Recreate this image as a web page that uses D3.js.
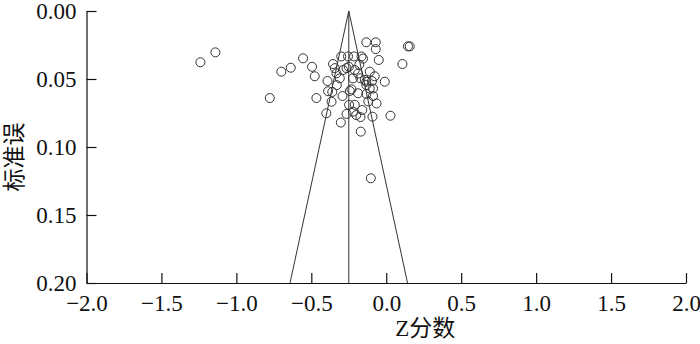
<!DOCTYPE html>
<html>
<head>
<meta charset="utf-8">
<script src="https://cdn.jsdelivr.net/npm/d3@7"></script>
<style>
  body { margin: 0; background: #fff; }
</style>
</head>
<body>
<svg id="chart" width="700" height="344"></svg>
<script>
// study effect (Z score) and its standard error
var zValues = [
  -1.24, -1.14, -0.777, -0.70, -0.637, -0.555, -0.495, -0.477, -0.466, -0.40,
  -0.392, -0.388, -0.365, -0.355, -0.343, -0.332, -0.31, -0.303, -0.30, -0.292,
  -0.265, -0.265, -0.255, -0.248, -0.243, -0.222, -0.215, -0.21, -0.21, -0.20,
  -0.188, -0.188, -0.172, -0.17, -0.165, -0.16, -0.155, -0.143, -0.133, -0.133,
  -0.133, -0.11, -0.11, -0.103, -0.092, -0.088, -0.088, -0.077, -0.07, -0.07,
  -0.065, -0.05, -0.01, 0.028, 0.108, 0.145, 0.157, -0.232, -0.222, -0.172,
  -0.288, -0.25, -0.133, -0.36, -0.33, -0.12, -0.095, -0.18
];
var seValues = [
  0.0377, 0.0304, 0.064, 0.0446, 0.0417, 0.0348, 0.041, 0.048, 0.064, 0.0752,
  0.0515, 0.059, 0.0667, 0.039, 0.042, 0.0458, 0.0495, 0.082, 0.0334, 0.0625,
  0.042, 0.0757, 0.0334, 0.069, 0.0588, 0.074, 0.0334, 0.0434, 0.069, 0.0765,
  0.046, 0.0605, 0.078, 0.0887, 0.0334, 0.0728, 0.035, 0.0507, 0.023, 0.0544,
  0.061, 0.0446, 0.057, 0.123, 0.0777, 0.057, 0.0625, 0.048, 0.023, 0.028,
  0.068, 0.036, 0.052, 0.077, 0.039, 0.026, 0.026, 0.0576, 0.0495, 0.0495,
  0.0434, 0.041, 0.052, 0.0595, 0.0545, 0.0665, 0.0515, 0.0395
];
var pooled = -0.25;
var seMax = 0.2;
var xTicks = [-2.0, -1.5, -1.0, -0.5, 0.0, 0.5, 1.0, 1.5, 2.0];
var yTicks = [0.00, 0.05, 0.10, 0.15, 0.20];
var xLabel = "Z分数";
var yLabel = "标准误";

var FONT = "'Liberation Serif', 'Times New Roman', Tinos, 'Noto Sans CJK SC', serif";

var margin = {left: 86.5, right: 14, top: 11, bottom: 61};
var width = 700 - margin.left - margin.right;
var height = 344 - margin.top - margin.bottom;

var svg = d3.select("#chart");
var g = svg.append("g").attr("transform", "translate(" + margin.left + "," + margin.top + ")");

var x = d3.scaleLinear().domain([-2, 2]).range([0, width]);
var y = d3.scaleLinear().domain([0, seMax]).range([0, height]);

// axes, ticks pointing inward
var xAxis = g.append("g")
    .attr("transform", "translate(0," + height + ")")
    .call(d3.axisBottom(x).tickValues(xTicks).tickFormat(d3.format(".1f"))
        .tickSizeInner(-10).tickSizeOuter(0).tickPadding(12));
var yAxis = g.append("g")
    .call(d3.axisLeft(y).tickValues(yTicks).tickFormat(d3.format(".2f"))
        .tickSizeInner(-10).tickSizeOuter(0).tickPadding(10));

[xAxis, yAxis].forEach(function(a) {
  a.attr("font-family", FONT).attr("font-size", 23);
  a.selectAll("path, line").attr("stroke", "#111").attr("stroke-width", 1.2);
  a.selectAll("text").attr("fill", "#111");
});

// funnel and pooled line
var funnel = [[pooled - 1.96 * seMax, seMax], [pooled, 0], [pooled + 1.96 * seMax, seMax]];
g.append("path")
    .datum(funnel)
    .attr("fill", "none")
    .attr("stroke", "#333")
    .attr("stroke-width", 1)
    .attr("d", d3.line().x(function(d) { return x(d[0]); }).y(function(d) { return y(d[1]); }));
g.append("line")
    .attr("x1", x(pooled)).attr("x2", x(pooled))
    .attr("y1", y(0)).attr("y2", y(seMax))
    .attr("stroke", "#333").attr("stroke-width", 1);

// studies
var pts = zValues.map(function(z, i) { return {z: z, se: seValues[i]}; });
g.selectAll(".pt")
    .data(pts)
    .enter().append("circle")
    .attr("class", "pt")
    .attr("cx", function(d) { return x(d.z); })
    .attr("cy", function(d) { return y(d.se); })
    .attr("r", 4.5)
    .attr("fill", "none")
    .attr("stroke", "#333")
    .attr("stroke-width", 1);

// axis titles
svg.append("text")
    .attr("x", margin.left + x(0.26))
    .attr("y", 336)
    .attr("text-anchor", "middle")
    .attr("font-family", FONT)
    .attr("font-size", 23)
    .attr("fill", "#111")
    .text(xLabel);
svg.append("text")
    .attr("transform", "translate(22," + 157 + ") rotate(-90)")
    .attr("text-anchor", "middle")
    .attr("font-family", FONT)
    .attr("font-size", 23)
    .attr("fill", "#111")
    .text(yLabel);
</script>
</body>
</html>
